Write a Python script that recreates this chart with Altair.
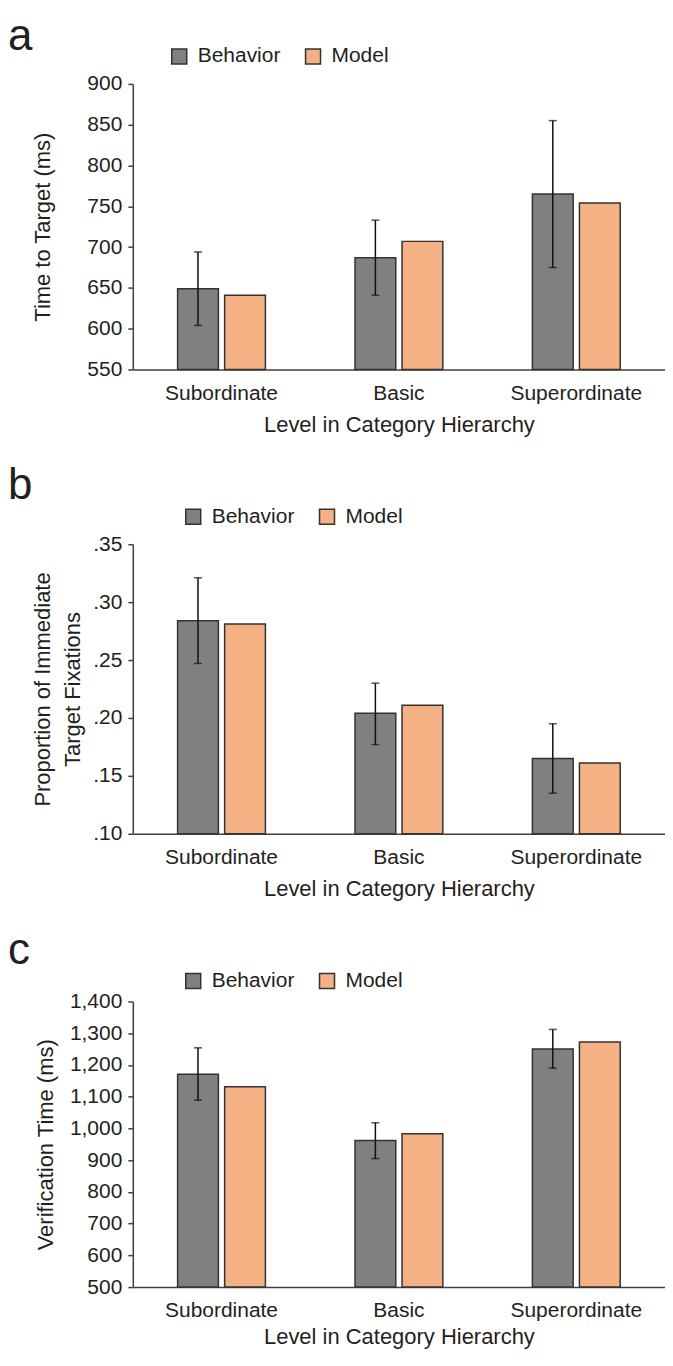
import altair as alt
import pandas as pd

CATEGORIES = ["Subordinate", "Basic", "Superordinate"]
SERIES = ["Behavior", "Model"]
COLORS = ["#808080", "#F4B183"]

# Panel a: Time to Target (ms)
A_BEHAVIOR = [649, 687, 765]
A_MODEL = [641, 707, 754]
A_ERR_LO = [604, 641, 675]
A_ERR_HI = [694, 733, 855]
A_TICKS = [550, 600, 650, 700, 750, 800, 850, 900]

# Panel b: Proportion of Immediate Target Fixations
B_BEHAVIOR = [0.284, 0.204, 0.165]
B_MODEL = [0.281, 0.211, 0.161]
B_ERR_LO = [0.247, 0.177, 0.135]
B_ERR_HI = [0.321, 0.230, 0.195]
B_TICKS = [0.10, 0.15, 0.20, 0.25, 0.30, 0.35]

# Panel c: Verification Time (ms)
C_BEHAVIOR = [1171, 962, 1250]
C_MODEL = [1131, 983, 1272]
C_ERR_LO = [1089, 905, 1190]
C_ERR_HI = [1254, 1018, 1312]
C_TICKS = [500, 600, 700, 800, 900, 1000, 1100, 1200, 1300, 1400]

X_TITLE = "Level in Category Hierarchy"
FONT = "Liberation Sans"
TEXT_COLOR = "#231f20"
AXIS_COLOR = "#404040"
ORIGIN = 127
WIDTH = 533


def panel(letter, behavior, model, lo, hi, ticks, y_title, label_expr, fmt,
          height, letter_y, leg_x, leg_y, title_pad, x_lab_pad, x_title_pad):
    rows = []
    for i, c in enumerate(CATEGORIES):
        rows.append({"cat": c, "series": "Behavior", "value": behavior[i],
                     "lo": lo[i], "hi": hi[i]})
        rows.append({"cat": c, "series": "Model", "value": model[i],
                     "lo": None, "hi": None})
    df = pd.DataFrame(rows)
    dmin, dmax = ticks[0], ticks[-1]

    x_axis = alt.Axis(labelAngle=0, ticks=False, labelFontSize=21,
                      labelFont=FONT, labelColor=TEXT_COLOR,
                      labelPadding=x_lab_pad, titlePadding=x_title_pad,
                      titleFontSize=22, titleFont=FONT,
                      titleFontWeight="normal", titleColor=TEXT_COLOR,
                      domainColor=AXIS_COLOR, domainWidth=1.5)
    x_scale = alt.Scale(paddingInner=0.505, paddingOuter=0.2525)
    xenc = alt.X("cat:N", sort=CATEGORIES, title=X_TITLE, scale=x_scale, axis=x_axis)
    xoff = alt.XOffset("series:N", sort=SERIES,
                       scale=alt.Scale(paddingInner=0.133, paddingOuter=0))
    axis_kw = dict(values=ticks, grid=False, tickSize=5, tickWidth=1.5,
                   tickColor=AXIS_COLOR, domainColor=AXIS_COLOR, domainWidth=1.5,
                   labelFontSize=21, labelFont=FONT, labelColor=TEXT_COLOR,
                   labelPadding=6, labelOverlap=False, labelFlush=False,
                   titleFontSize=22, titleFont=FONT,
                   titleFontWeight="normal", titleColor=TEXT_COLOR,
                   titlePadding=title_pad, titleLineHeight=30)
    if label_expr:
        axis_kw["labelExpr"] = label_expr
    if fmt:
        axis_kw["format"] = fmt
    y_axis = alt.Axis(**axis_kw)
    yscale = alt.Scale(domain=[dmin, dmax], nice=False, zero=False)

    bars = alt.Chart(df).mark_bar(stroke="#333333", strokeWidth=1.5).encode(
        x=xenc,
        xOffset=xoff,
        y=alt.Y("value:Q", scale=yscale, title=y_title, axis=y_axis),
        y2=alt.datum(dmin),
        color=alt.Color("series:N", sort=SERIES,
                        scale=alt.Scale(domain=SERIES, range=COLORS),
                        legend=alt.Legend(orient="none", legendX=leg_x, legendY=leg_y,
                                          direction="horizontal", title=None,
                                          symbolType="square", symbolSize=225,
                                          symbolStrokeColor="#333333",
                                          symbolStrokeWidth=1.5, symbolOpacity=1,
                                          labelFontSize=21, labelFont=FONT,
                                          labelColor=TEXT_COLOR, labelOffset=8,
                                          columnPadding=22, padding=0)),
    )
    err_df = df[df["series"] == "Behavior"]
    err = alt.Chart(err_df).mark_rule(color="#111111", strokeWidth=1.5).encode(
        x=xenc,
        xOffset=xoff,
        y=alt.Y("lo:Q", scale=yscale, title=y_title, axis=y_axis),
        y2="hi:Q",
    )
    cap_hi = alt.Chart(err_df).mark_tick(color="#111111", thickness=1.5, size=8).encode(
        x=xenc,
        xOffset=xoff,
        y=alt.Y("hi:Q", scale=yscale, title=y_title, axis=y_axis),
    )
    cap_lo = alt.Chart(err_df).mark_tick(color="#111111", thickness=1.5, size=8).encode(
        x=xenc,
        xOffset=xoff,
        y=alt.Y("lo:Q", scale=yscale, title=y_title, axis=y_axis),
    )
    lab = alt.Chart(pd.DataFrame({"t": [letter]})).mark_text(
        align="left", baseline="alphabetic", fontSize=44, font=FONT,
        color=TEXT_COLOR).encode(
        text="t:N", x=alt.value(-ORIGIN + 2), y=alt.value(letter_y))
    return alt.layer(bars, err, cap_hi, cap_lo, lab).properties(width=WIDTH, height=height)


pa = panel("a", A_BEHAVIOR, A_MODEL, A_ERR_LO, A_ERR_HI, A_TICKS,
           "Time to Target (ms)", None, "d", 286, -34, 36, -38, 32, 13, 11)
pb = panel("b", B_BEHAVIOR, B_MODEL, B_ERR_LO, B_ERR_HI, B_TICKS,
           ["Proportion of Immediate", "Target Fixations"],
           "replace(format(datum.value, '.2f'), '0.', '.')", None,
           290, -45, 50, -38, 8, 13, 11)
pc = panel("c", C_BEHAVIOR, C_MODEL, C_ERR_LO, C_ERR_HI, C_TICKS,
           "Verification Time (ms)", None, ",d", 286, -38, 50, -31, 12, 12, 7)

chart = alt.concat(pa, pb, pc, columns=1, spacing=29).resolve_scale(
    color="independent").resolve_legend(color="independent").configure_view(
    stroke=None).properties(padding={"left": 0, "top": 6, "right": 0, "bottom": 0})

chart.save("out.html", embed_options={"renderer": "svg", "actions": False})
